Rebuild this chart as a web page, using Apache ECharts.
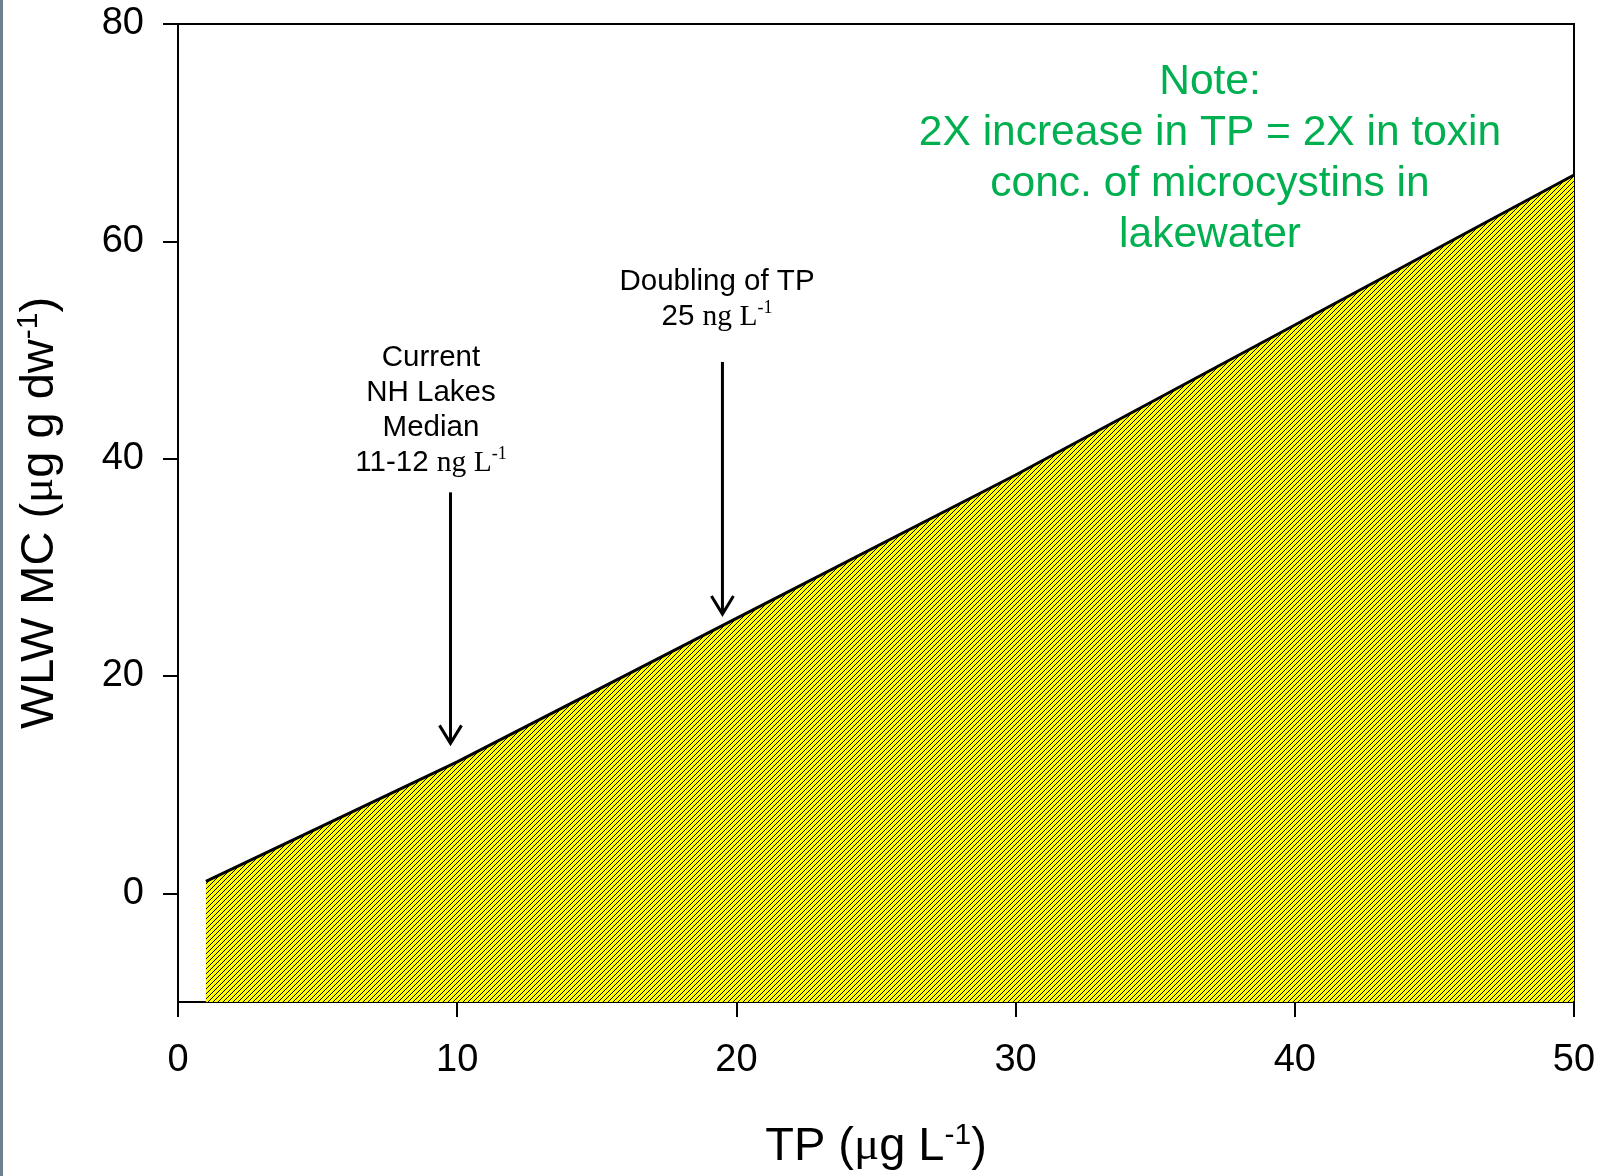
<!DOCTYPE html>
<html>
<head>
<meta charset="utf-8">
<script src="https://cdn.jsdelivr.net/npm/echarts@6/dist/echarts.min.js"></script>
<style>
  html, body { margin: 0; padding: 0; background: #fff; }
  #chart { width: 1601px; height: 1176px; }
</style>
</head>
<body>
<div id="chart"></div>
<script>
// ---- data ----
const tpValues = [1, 10, 20, 30, 40, 50];
const mcValues = [1.1, 12.1, 25.3, 38.5, 52.3, 66.1];

const xTicks = [0, 10, 20, 30, 40, 50];
const yTicks = [0, 20, 40, 60, 80];

// annotation arrows (TP position, arrow start MC, arrow tip MC)
const arrowTP = [9.76, 19.5];
const arrowFrom = [36.9, 48.9];
const arrowTo = [13.8, 25.7];

// ---- hatch pattern (diagonal lines on yellow) ----
function makeHatch() {
  const n = 5;
  const c = document.createElement('canvas');
  c.width = n; c.height = n;
  const ctx = c.getContext('2d');
  const img = ctx.createImageData(n, n);
  for (let y = 0; y < n; y++) {
    for (let x = 0; x < n; x++) {
      const i = (y * n + x) * 4;
      const k = (x + y) % n;
      let r = 255, g = 255, b = 0;
      if (k === n - 1) { r = 0; g = 0; b = 0; }
      img.data[i] = r; img.data[i + 1] = g; img.data[i + 2] = b; img.data[i + 3] = 255;
    }
  }
  ctx.putImageData(img, 0, 0);
  return c;
}

const chart = echarts.init(document.getElementById('chart'), null, { renderer: 'canvas' });

const sans = 'Liberation Sans';
const serif = 'Liberation Serif';

const titleRich = {
  a: { fontFamily: sans, fontSize: 47, color: '#000', lineHeight: 52 },
  m: { fontFamily: serif, fontSize: 47, color: '#000', lineHeight: 52 },
  s: { fontFamily: sans, fontSize: 30, color: '#000', verticalAlign: 'top', lineHeight: 30, padding: [0, 0, 6, 0] }
};

const option = {
  backgroundColor: '#ffffff',
  animation: false,
  grid: {
    left: 178, right: 27, top: 24, bottom: 174,
    show: true, borderColor: '#000', borderWidth: 2, backgroundColor: 'transparent'
  },
  xAxis: {
    type: 'value', min: 0, max: 50, interval: 10,
    name: '{a|TP (}{m|μ}{a|g L}{s|-1}{a|)}',
    nameLocation: 'middle', nameGap: 119,
    nameTextStyle: { rich: titleRich },
    axisLine: { show: true, onZero: false, lineStyle: { color: '#000', width: 2 } },
    axisTick: { show: true, inside: false, length: 15, lineStyle: { color: '#000', width: 2 }, customValues: xTicks },
    axisLabel: { fontFamily: sans, fontSize: 38, color: '#000', margin: 40, customValues: xTicks },
    splitLine: { show: false }
  },
  yAxis: {
    type: 'value', min: -10, max: 80,
    name: '{a|WLW MC (}{m|μ}{a|g g dw}{s|-1}{a|)}',
    nameLocation: 'middle', nameGap: 112, nameRotate: 90,
    nameTextStyle: { rich: titleRich },
    axisLine: { show: true, onZero: false, lineStyle: { color: '#000', width: 2 } },
    axisTick: { show: true, inside: false, length: 15, lineStyle: { color: '#000', width: 2 }, customValues: yTicks },
    axisLabel: { fontFamily: sans, fontSize: 38, color: '#000', margin: 34, padding: [4, 0, 0, 0], customValues: yTicks },
    splitLine: { show: false }
  },
  series: [
    {
      type: 'line',
      data: tpValues.map((x, i) => [x, mcValues[i]]),
      symbol: 'none',
      lineStyle: { color: '#000', width: 3 },
      areaStyle: { origin: 'start', opacity: 1, color: { image: makeHatch(), repeat: 'repeat' } },
      z: 2
    },
    {
      type: 'custom',
      data: arrowTP.map((x, i) => [x, arrowFrom[i], arrowTo[i]]),
      clip: false,
      z: 5,
      renderItem: function (params, api) {
        const p1 = api.coord([api.value(0), api.value(1)]);
        const p2 = api.coord([api.value(0), api.value(2)]);
        const hw = 11, hh = 18;
        return {
          type: 'group',
          children: [
            { type: 'line', shape: { x1: p1[0], y1: p1[1], x2: p2[0], y2: p2[1] - 1 },
              style: { stroke: '#000', lineWidth: 3 } },
            { type: 'polyline', shape: { points: [[p2[0] - hw, p2[1] - hh], [p2[0], p2[1]], [p2[0] + hw, p2[1] - hh]] },
              style: { stroke: '#000', lineWidth: 3, fill: null } }
          ]
        };
      }
    }
  ],
  graphic: [
    { type: 'rect', left: 0, top: 0, shape: { width: 3, height: 1176 }, style: { fill: '#6f8190' }, z: 100 },
    {
      type: 'text', x: 431, y: 410.5, z: 100,
      style: {
        text: '{a|Current}\n{a|NH Lakes}\n{a|Median}\n{a|11-12 }{t|ng L}{s|-1}',
        align: 'center', verticalAlign: 'middle',
        rich: {
          a: { fontFamily: sans, fontSize: 29.5, fill: '#000', lineHeight: 35 },
          t: { fontFamily: serif, fontSize: 29.5, fill: '#000', lineHeight: 35 },
          s: { fontFamily: serif, fontSize: 18, fill: '#000', lineHeight: 35, verticalAlign: 'top', padding: [0, 0, 10, 0] }
        }
      }
    },
    {
      type: 'text', x: 717, y: 299.5, z: 100,
      style: {
        text: '{a|Doubling of TP}\n{a|25 }{t|ng L}{s|-1}',
        align: 'center', verticalAlign: 'middle',
        rich: {
          a: { fontFamily: sans, fontSize: 29.5, fill: '#000', lineHeight: 35 },
          t: { fontFamily: serif, fontSize: 29.5, fill: '#000', lineHeight: 35 },
          s: { fontFamily: serif, fontSize: 18, fill: '#000', lineHeight: 35, verticalAlign: 'top', padding: [0, 0, 10, 0] }
        }
      }
    },
    {
      type: 'text', x: 1210, y: 159, z: 100,
      style: {
        text: 'Note:\n2X increase in TP = 2X in toxin\nconc. of microcystins in\nlakewater',
        align: 'center', verticalAlign: 'middle',
        fontFamily: sans, fontSize: 42.5, lineHeight: 51, fill: '#00b050'
      }
    }
  ]
};

chart.setOption(option);
</script>
</body>
</html>
